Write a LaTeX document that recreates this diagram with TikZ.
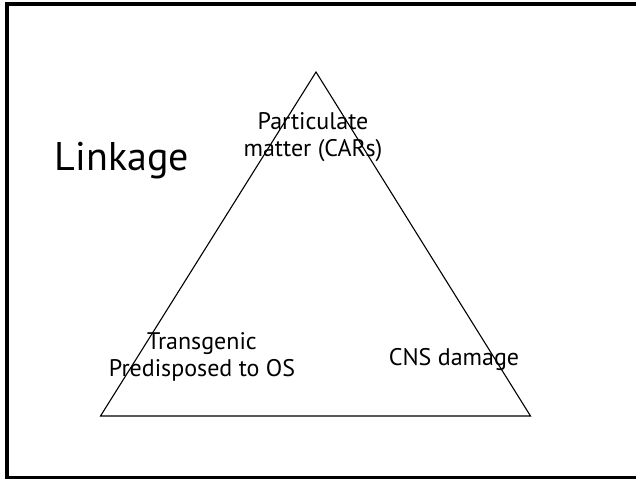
\documentclass[tikz,border=0pt]{standalone}
\usepackage{fontspec}
\setmainfont{PT Sans}
\begin{document}
\begin{tikzpicture}[x=1pt,y=-1pt,
  lbl/.style={font=\fontsize{24}{27.5}\selectfont, align=center, inner sep=0pt},
  title/.style={font=\fontsize{40}{44}\selectfont, inner sep=0pt}]
\useasboundingbox (0,0) rectangle (636,479);
\begin{scope}
\clip (0,0) rectangle (636,479);
\draw[line width=3.5pt] (7,4) rectangle (640,477.5);
\end{scope}
\coordinate (apex) at (316,72);
\coordinate (bl) at (100.5,416);
\coordinate (br) at (530.5,416);
\draw[line width=1.1pt, line join=miter] (apex) -- (bl) -- (br) -- cycle;
\node[title] (link) at (122,161) {Linkage};
\node[lbl] (pm) at (313,137) {Particulate\\matter (CARs)};
\node[lbl] (tg) at (202,357) {Transgenic\\Predisposed to OS};
\node[lbl] (cns) at (454,359) {CNS damage};
\end{tikzpicture}
\end{document}
